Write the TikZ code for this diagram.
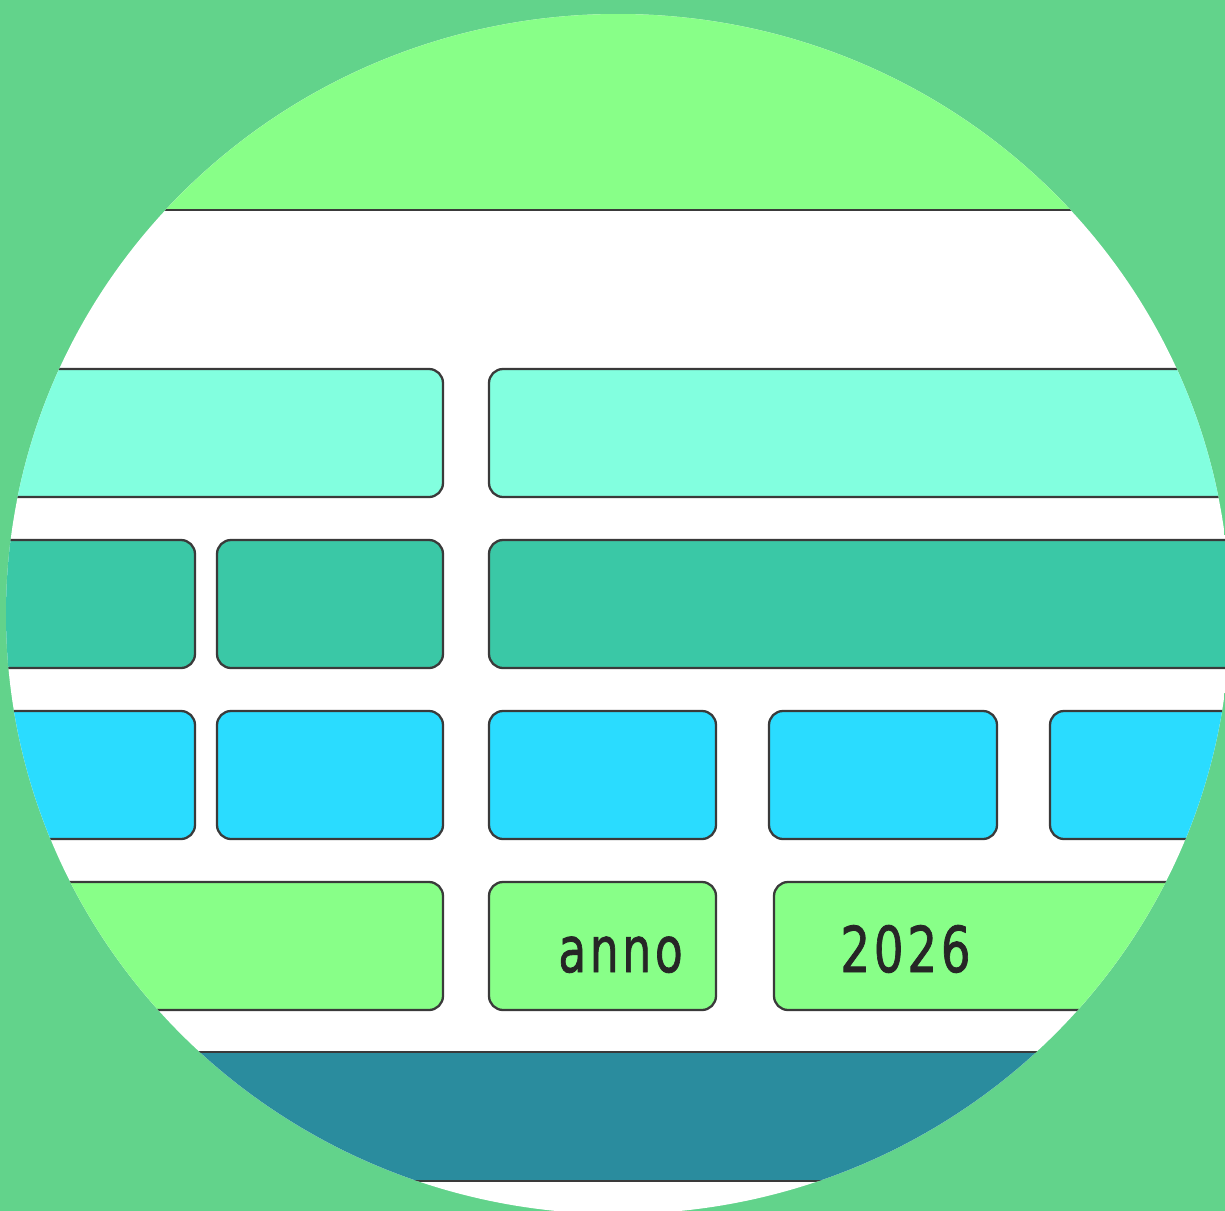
\documentclass[tikz,border=0pt]{standalone}
\usepackage{fontspec}
\newfontfamily\cellfont[FakeBold=1.4, LetterSpace=8]{DejaVu Sans}
\definecolor{bgGreen}{HTML}{62D38B}
\definecolor{lightGreen}{HTML}{88FF88}
\definecolor{aquaBox}{HTML}{82FFDF}
\definecolor{tealBox}{HTML}{3AC8A6}
\definecolor{cyanBox}{HTML}{2ADCFF}
\definecolor{deepTeal}{HTML}{2A8C9E}
\definecolor{edgeGray}{HTML}{3A3A3A}
\begin{document}
\begin{tikzpicture}[x=0.02cm, y=-0.02cm,
		box/.style={draw=edgeGray, line width=1.3pt, rounded corners=8pt},
		band/.style={draw=edgeGray, line width=1.3pt},
		label/.style={inner sep=0pt, text=black!85, font=\cellfont\fontsize{36}{40}\selectfont}]
		\fill[bgGreen] (0,0) rectangle (1225,1211);
		\useasboundingbox (0,0) rectangle (1225,1211);
		\begin{scope}
			\clip (618,614) ellipse[x radius=612, y radius=600];
			\fill[white] (0,0) rectangle (1225,1211);
			\draw[band, fill=lightGreen] (-50,-50) rectangle (1300,210);
			% row 1
			\draw[box, fill=aquaBox] (-50,369) rectangle (443,497);
			\draw[box, fill=aquaBox] (489,369) rectangle (1300,497);
			% row 2
			\draw[box, fill=tealBox] (-50,540) rectangle (195,668);
			\draw[box, fill=tealBox] (217,540) rectangle (443,668);
			\draw[box, fill=tealBox] (489,540) rectangle (1300,668);
			% row 3
			\draw[box, fill=cyanBox] (-50,711) rectangle (195,839);
			\draw[box, fill=cyanBox] (217,711) rectangle (443,839);
			\draw[box, fill=cyanBox] (489,711) rectangle (716,839);
			\draw[box, fill=cyanBox] (769,711) rectangle (997,839);
			\draw[box, fill=cyanBox] (1050,711) rectangle (1300,839);
			% row 4
			\draw[box, fill=lightGreen] (-50,882) rectangle (443,1010);
			\draw[box, fill=lightGreen] (489,882) rectangle (716,1010);
			\draw[box, fill=lightGreen] (774,882) rectangle (1300,1010);
			\node[label, anchor=base west] (anno) at (558,972) {\scalebox{0.72}[1]{anno}};
			\node[label, anchor=base west] (year) at (840,972) {\scalebox{0.74}[1]{2026}};
			% bottom band
			\draw[band, fill=deepTeal] (-50,1052) rectangle (1300,1181);
		\end{scope}
	\end{tikzpicture}
\end{document}
